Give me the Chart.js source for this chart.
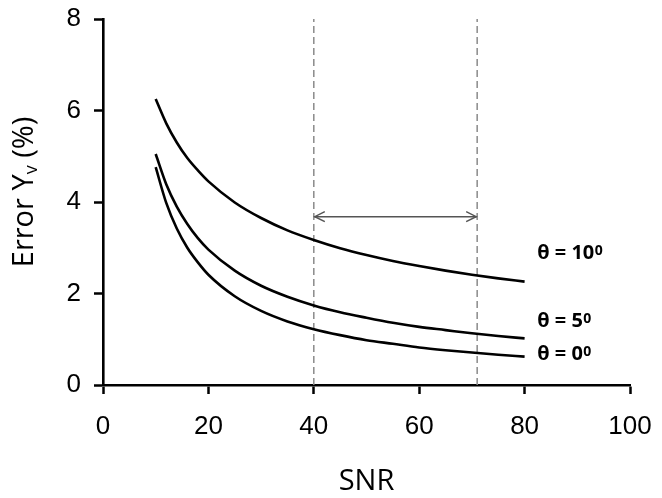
<!DOCTYPE html>
<html>
<head>
<meta charset="utf-8">
<script src="https://cdn.jsdelivr.net/npm/chart.js@4"></script>
<style>
	body { margin: 0; background: #fff; }
	#wrap { width: 662px; height: 498px; }
</style>
</head>
<body>
<div id="wrap"><canvas id="chart" width="662" height="498"></canvas></div>
<script>
// values
const snr = [10, 12, 14, 16, 18, 20, 25, 30, 35, 40, 45, 50, 55, 60, 65, 70, 75, 80];
const errTheta0 = [4.76, 3.98, 3.42, 3.00, 2.68, 2.41, 1.94, 1.62, 1.39, 1.22, 1.09, 0.98, 0.90, 0.82, 0.76, 0.71, 0.66, 0.62];
const errTheta5 = [5.05, 4.39, 3.90, 3.52, 3.21, 2.96, 2.50, 2.17, 1.93, 1.74, 1.59, 1.47, 1.36, 1.27, 1.20, 1.13, 1.07, 1.02];
const errTheta10 = [6.25, 5.72, 5.30, 4.96, 4.69, 4.45, 3.99, 3.65, 3.38, 3.17, 2.99, 2.84, 2.71, 2.60, 2.50, 2.41, 2.33, 2.26];

const rangeBounds = [40, 71];
const arrowLevel = 3.68;

const curveLabels = ["θ = 10", "θ = 5", "θ = 0"];
const curveLabelX = 82.4;
const curveLabelY = [2.9, 1.42, 0.70];

const xTitle = "SNR";
const yTitle = ["Error Y", "v", " (%)"];

function ToPoints(xs, ys)
{
	return xs.map((x, i) => ({ x: x, y: ys[i] }));
}

function CurveDataset(label, values)
{
	return {
		label: label,
		data: ToPoints(snr, values),
		borderColor: "#000",
		borderWidth: 2.6,
		pointRadius: 0,
		cubicInterpolationMode: "monotone",
		clip: false,
	};
}

function BoundDataset(x)
{
	return {
		label: "bound " + x,
		data: [{ x: x, y: 0 }, { x: x, y: 8 }],
		borderColor: "#8a8a8a",
		borderWidth: 1.5,
		borderDash: [7, 4],
		pointRadius: 0,
	};
}

const arrowHeads = {
	id: "arrowHeads",
	afterDatasetsDraw(chart)
	{
		const { ctx, scales: { x, y } } = chart;
		const py = y.getPixelForValue(arrowLevel);
		const x0 = x.getPixelForValue(rangeBounds[0]);
		const x1 = x.getPixelForValue(rangeBounds[1]);
		ctx.save();
		ctx.strokeStyle = "#555";
		ctx.lineWidth = 1.5;
		ctx.beginPath();
		ctx.moveTo(x0 + 11, py - 5);
		ctx.lineTo(x0 + 1, py);
		ctx.lineTo(x0 + 11, py + 5);
		ctx.moveTo(x1 - 11, py - 5);
		ctx.lineTo(x1 - 1, py);
		ctx.lineTo(x1 - 11, py + 5);
		ctx.stroke();
		ctx.restore();
	}
};

const textLabels = {
	id: "textLabels",
	afterDraw(chart)
	{
		const { ctx, scales: { x, y }, chartArea } = chart;
		ctx.save();
		ctx.fillStyle = "#000";

		// curve labels with raised degree zero
		ctx.textBaseline = "alphabetic";
		ctx.textAlign = "left";
		for (let i = 0; i < curveLabels.length; i++)
		{
			const px = x.getPixelForValue(curveLabelX);
			const py = y.getPixelForValue(curveLabelY[i]);
			ctx.font = "bold 20px 'Open Sans'";
			ctx.fillText(curveLabels[i], px, py + 7);
			const w = ctx.measureText(curveLabels[i]).width;
			ctx.font = "bold 14px 'Open Sans'";
			ctx.fillText("0", px + w + 0.5, py + 3);
		}

		// y axis title with subscript v
		ctx.translate(25, (chartArea.top + chartArea.bottom) / 2 - 10);
		ctx.rotate(-Math.PI / 2);
		ctx.textBaseline = "middle";
		const bigFont = "29px 'Open Sans'";
		const smallFont = "18px 'Open Sans'";
		ctx.font = bigFont;
		const w0 = ctx.measureText(yTitle[0]).width;
		const w2 = ctx.measureText(yTitle[2]).width;
		ctx.font = smallFont;
		const w1 = ctx.measureText(yTitle[1]).width;
		let cx = -(w0 + w1 + w2) / 2;
		ctx.font = bigFont;
		ctx.fillText(yTitle[0], cx, 0);
		cx += w0;
		ctx.font = smallFont;
		ctx.fillText(yTitle[1], cx, 7);
		cx += w1;
		ctx.font = bigFont;
		ctx.fillText(yTitle[2], cx, 0);
		ctx.restore();
	}
};

const ctx = document.getElementById("chart");
new Chart(ctx, {
	type: "line",
	data: {
		datasets: [
			CurveDataset("θ = 10°", errTheta10),
			CurveDataset("θ = 5°", errTheta5),
			CurveDataset("θ = 0°", errTheta0),
			BoundDataset(rangeBounds[0]),
			BoundDataset(rangeBounds[1]),
			{
				label: "range",
				data: [{ x: rangeBounds[0], y: arrowLevel }, { x: rangeBounds[1], y: arrowLevel }],
				borderColor: "#555",
				borderWidth: 1.5,
				pointRadius: 0,
			},
		]
	},
	options: {
		responsive: false,
		animation: false,
		layout: {
			padding: { top: 19, right: 32, bottom: 0, left: 0 }
		},
		plugins: {
			legend: { display: false },
			tooltip: { enabled: false },
		},
		scales: {
			x: {
				type: "linear",
				min: 0,
				max: 100,
				ticks: {
					stepSize: 20,
					padding: 17,
					color: "#000",
					font: { family: "'Liberation Sans', Arial", size: 26 },
				},
				grid: {
					drawOnChartArea: false,
					drawTicks: true,
					tickLength: 9,
					tickWidth: 2.5,
					tickColor: "#000",
				},
				border: { display: true, color: "#000", width: 2.6 },
				title: {
					display: true,
					text: xTitle,
					color: "#000",
					font: { family: "'Open Sans'", size: 29 },
					padding: { top: 0, bottom: -1 },
				},
				afterFit(scale)
				{
					scale.height = 113;
					scale.paddingLeft = 0;
					scale.paddingRight = 0;
				},
			},
			y: {
				type: "linear",
				min: 0,
				max: 8,
				ticks: {
					stepSize: 2,
					padding: 13,
					color: "#000",
					font: { family: "'Liberation Sans', Arial", size: 26 },
				},
				grid: {
					drawOnChartArea: false,
					drawTicks: true,
					tickLength: 9,
					tickWidth: 2.5,
					tickColor: "#000",
				},
				border: { display: true, color: "#000", width: 2.6 },
				afterFit(scale)
				{
					scale.width = 103;
					scale.paddingTop = 0;
					scale.paddingBottom = 0;
				},
			}
		}
	},
	plugins: [ arrowHeads, textLabels ],
});
</script>
</body>
</html>
